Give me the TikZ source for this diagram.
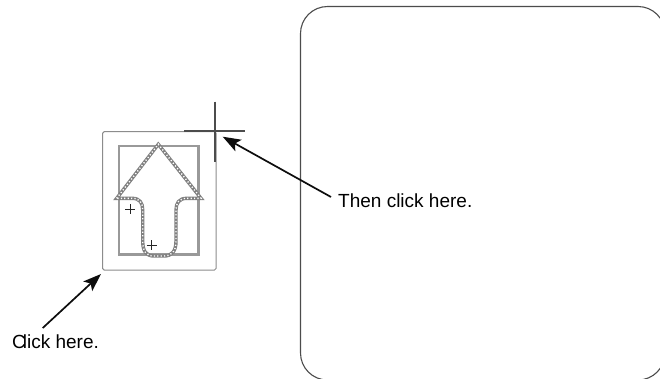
\documentclass[tikz,border=0pt]{standalone}
\usepackage{fontspec}
\setmainfont{Liberation Sans}
\usetikzlibrary{arrows.meta}
\tikzset{
  x=1pt,y=-1pt,
  lbl/.style={inner sep=0pt,anchor=west,font=\fontsize{19}{22}\selectfont,text=black},
  pointer/.style={draw=black!95,line width=1.7pt,-{Stealth[length=18pt,width=13pt,inset=4pt]}},
  frame/.style={draw=black!45,line width=1pt,rounded corners=1.5pt},
  inner/.style={draw=black!40,line width=2.4pt},
  cross/.style={draw=black!70,line width=1.2pt},
  hair/.style={draw=black!85,line width=0.9pt},
}
\def\arrowoutline{(116.7,198.3) -- (158.3,144.3) -- (201,198.3) -- (187,198.3) .. controls (179,198.3) and (176,203) .. (176,210) -- (176,241) .. controls (176,251) and (172,256) .. (164,256) -- (154,256) .. controls (146,256) and (142.7,251) .. (142.7,241) -- (142.7,210) .. controls (142.7,203) and (140,198.3) .. (132,198.3) -- cycle}
\begin{document}
\begin{tikzpicture}
\useasboundingbox (0,0) rectangle (660,378);
\fill[white] (0,0) rectangle (660,378);
\begin{scope}
\clip (0,0) rectangle (660,378);
\draw[draw=black!70,line width=1.1pt,rounded corners=27pt] (300.5,6.5) rectangle (665,380);
\end{scope}
\coordinate (framecorner) at (101,274);
\coordinate (crosspoint) at (222.7,136.7);
\draw[frame] (102.7,131.7) rectangle (216,270);
\draw[inner] (119,146) rectangle (198.3,254.3);
\draw[draw=black!50,line width=3.4pt,line join=miter] \arrowoutline;
\draw[white,line width=1.4pt,dash pattern=on 1.2pt off 2.2pt] \arrowoutline;
\draw[hair] (125,209) -- (135,209) (130,204) -- (130,214);
\draw[hair] (146.7,245) -- (156.7,245) (151.7,240) -- (151.7,250);
\draw[cross] (184,131) -- (245,131) (215,101.7) -- (215,161.7);
\node[lbl] (then) at (338,201) {Then click here.};
\node[lbl] (click) at (12,342) {C\kern-3pt lick here.};
\coordinate (thenstart) at (331,197);
\coordinate (clickstart) at (42.7,328);
\draw[pointer] (thenstart) -- (crosspoint);
\draw[pointer] (clickstart) -- (framecorner);
\end{tikzpicture}
\end{document}
